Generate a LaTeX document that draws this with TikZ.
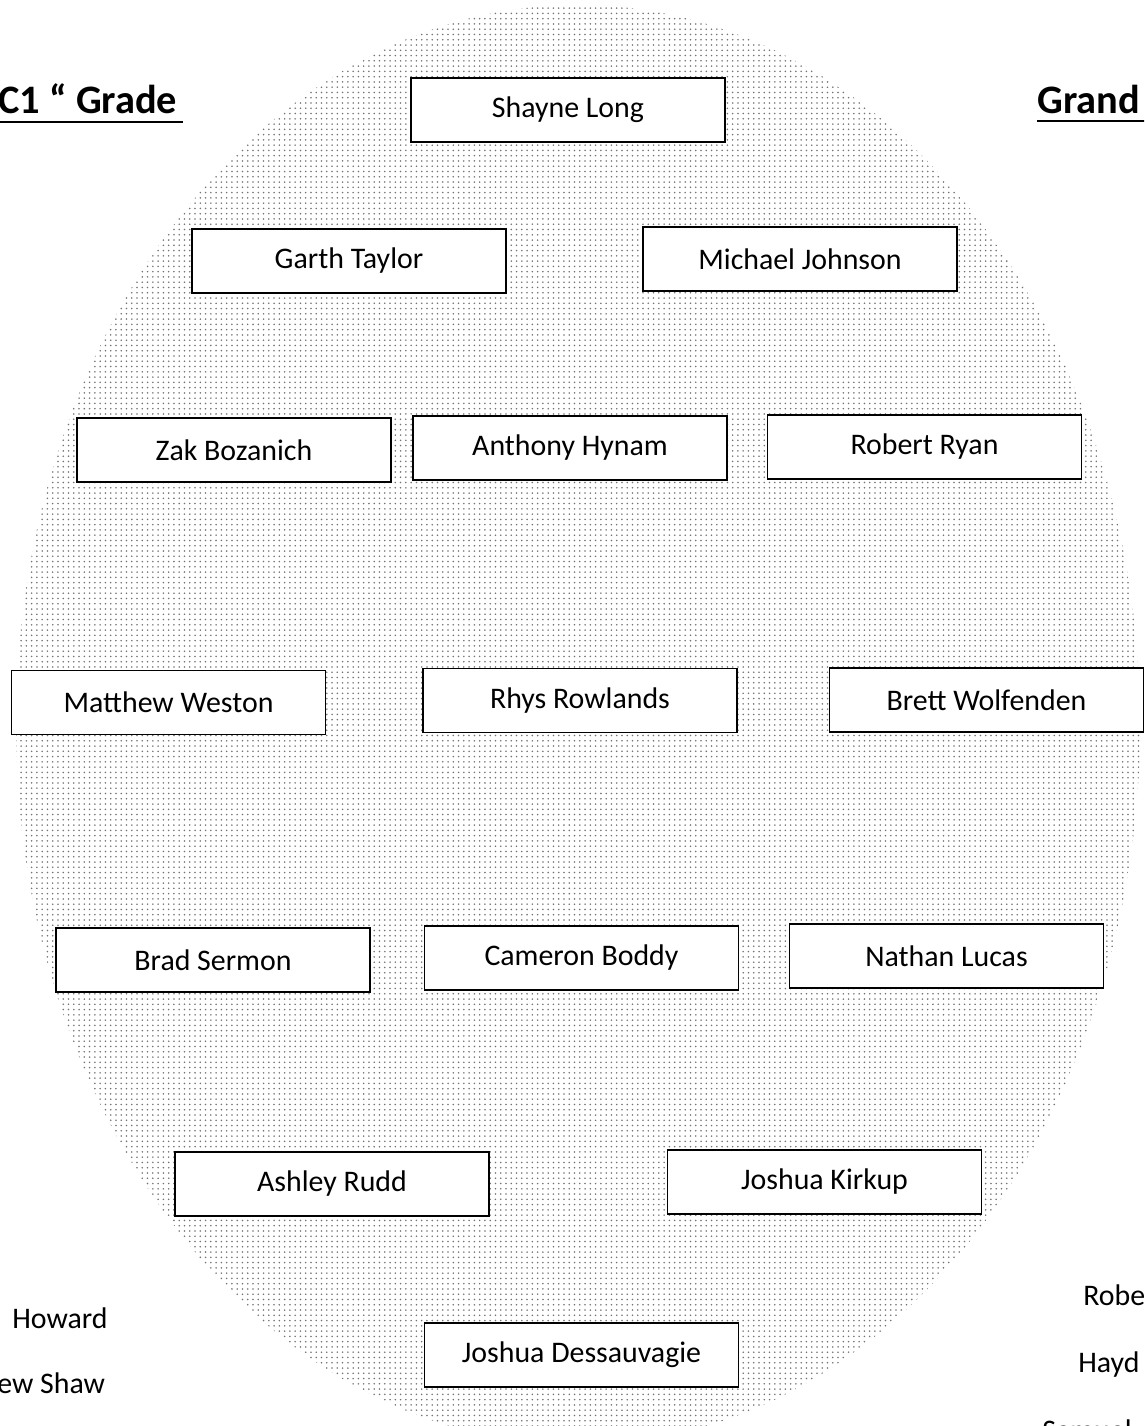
\documentclass[tikz,border=0pt]{standalone}
\usepackage{fontspec}
\setmainfont{Carlito}
\usetikzlibrary{patterns}

\tikzset{
  jugador/.style={draw, thick, fill=white, minimum width=6.28cm, minimum height=1.28cm, inner sep=0pt, font=\fontsize{17}{20}\selectfont},
  titulo/.style={anchor=base west, inner sep=0pt, font=\fontsize{23}{27}\selectfont\bfseries},
  suplente/.style={anchor=base west, inner sep=0pt, font=\fontsize{17}{20}\selectfont},
}

\begin{document}
\begin{tikzpicture}[x=0.02cm, y=-0.02cm]
        % marco
        \path[use as bounding box, clip] (0,0) rectangle (1144,1426);

        % campo
        \fill[pattern=dots, pattern color=black!55] (578,725) ellipse (562 and 720);

        % titulos
        \node[titulo] (C1) at (-2,113) {C1 “ Grade};
        \node[titulo] (GF) at (1037,113) {Grand};
        \draw[line width=1.4pt] (C1.base west) ++(0,9) -- ++(185,0);
        \draw[line width=1.4pt] (GF.base west) ++(0,8) -- ++(110,0);

        % jugadores
        \node[jugador] (SL) at (568,110) {Shayne Long};
        \node[jugador] (GT) at (349,261) {Garth Taylor};
        \node[jugador] (MJ) at (800,259) {Michael Johnson};
        \node[jugador] (ZB) at (234,450) {Zak Bozanich};
        \node[jugador] (AH) at (570,448) {Anthony Hynam};
        \node[jugador] (RR) at (924.5,447) {Robert Ryan};
        \node[jugador] (MW) at (168.5,702.5) {Matthew Weston};
        \node[jugador] (RhR) at (580,700.5) {Rhys Rowlands};
        \node[jugador] (BW) at (986.5,700) {Brett Wolfenden};
        \node[jugador] (BS) at (213,960) {Brad Sermon};
        \node[jugador] (CB) at (581.5,958) {Cameron Boddy};
        \node[jugador] (NL) at (946.5,956) {Nathan Lucas};
        \node[jugador] (AR) at (332,1184) {Ashley Rudd};
        \node[jugador] (JK) at (824.5,1182) {Joshua Kirkup};
        \node[jugador] (JD) at (581.5,1355) {Joshua Dessauvagie};

        % suplentes
        \node[suplente] (HW) at (12,1328) {Howard};
        \node[suplente] (ES) at (-3,1393) {ew Shaw};
        \node[suplente] (RB) at (1083,1305) {Robe};
        \node[suplente] (HY) at (1078,1372) {Hayd};
        \node[suplente] (SM) at (1042,1440) {Samuel};

\end{tikzpicture}
\end{document}
